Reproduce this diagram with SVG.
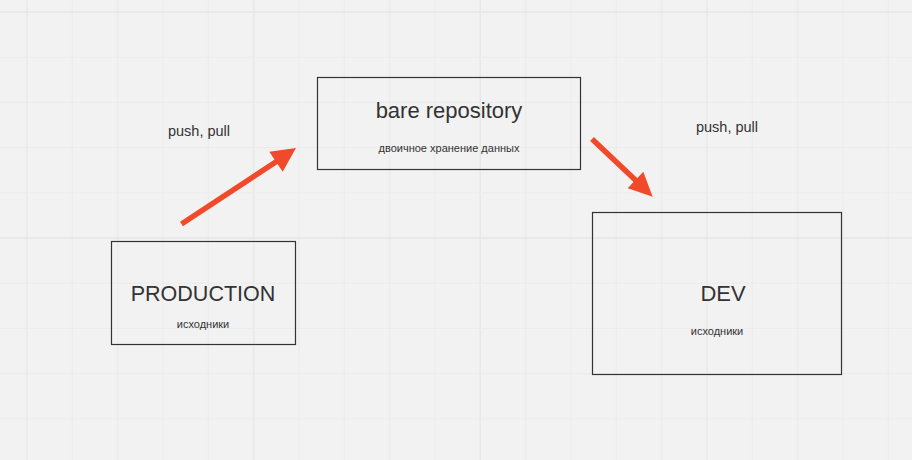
<svg xmlns="http://www.w3.org/2000/svg" width="912" height="460" viewBox="0 0 912 460">
<defs>
<style>
.bg{fill:#f2f2f2}
.g{stroke:#ebebeb;stroke-width:1}
.G{stroke:#e6e6e6;stroke-width:1.3}
.box{fill:none;stroke:#333333;stroke-width:1.2}
.t{font-family:"Liberation Sans",Arial,sans-serif;fill:#333333;text-anchor:middle}
.big{font-size:22px}
.prod{font-size:21.5px}
.small{font-size:11px}
.lbl{font-size:14.5px}
.arr{stroke:#f04a2a;stroke-width:5.5;fill:none}
.head{fill:#f04a2a}
</style>
</defs>
<rect class="bg" x="0" y="0" width="912" height="460"/>
<g id="grid">
<line class="G" x1="27" y1="0" x2="27" y2="460"/>
<line class="g" x1="72.3" y1="0" x2="72.3" y2="460"/>
<line class="g" x1="117.7" y1="0" x2="117.7" y2="460"/>
<line class="g" x1="163" y1="0" x2="163" y2="460"/>
<line class="g" x1="208.3" y1="0" x2="208.3" y2="460"/>
<line class="G" x1="253.7" y1="0" x2="253.7" y2="460"/>
<line class="g" x1="299" y1="0" x2="299" y2="460"/>
<line class="g" x1="344.3" y1="0" x2="344.3" y2="460"/>
<line class="g" x1="389.7" y1="0" x2="389.7" y2="460"/>
<line class="g" x1="435" y1="0" x2="435" y2="460"/>
<line class="G" x1="480.3" y1="0" x2="480.3" y2="460"/>
<line class="g" x1="525.7" y1="0" x2="525.7" y2="460"/>
<line class="g" x1="571" y1="0" x2="571" y2="460"/>
<line class="g" x1="616.3" y1="0" x2="616.3" y2="460"/>
<line class="g" x1="661.7" y1="0" x2="661.7" y2="460"/>
<line class="G" x1="707" y1="0" x2="707" y2="460"/>
<line class="g" x1="752.3" y1="0" x2="752.3" y2="460"/>
<line class="g" x1="797.7" y1="0" x2="797.7" y2="460"/>
<line class="g" x1="843" y1="0" x2="843" y2="460"/>
<line class="g" x1="888.3" y1="0" x2="888.3" y2="460"/>
<line class="G" x1="0" y1="12" x2="912" y2="12"/>
<line class="g" x1="0" y1="57.2" x2="912" y2="57.2"/>
<line class="g" x1="0" y1="102.4" x2="912" y2="102.4"/>
<line class="g" x1="0" y1="147.6" x2="912" y2="147.6"/>
<line class="g" x1="0" y1="192.8" x2="912" y2="192.8"/>
<line class="G" x1="0" y1="238" x2="912" y2="238"/>
<line class="g" x1="0" y1="283.2" x2="912" y2="283.2"/>
<line class="g" x1="0" y1="328.4" x2="912" y2="328.4"/>
<line class="g" x1="0" y1="373.6" x2="912" y2="373.6"/>
<line class="g" x1="0" y1="418.8" x2="912" y2="418.8"/>
</g>
<g id="production">
<rect class="box" x="111.5" y="241.5" width="184" height="103"/>
<text class="t prod" x="203" y="301">PRODUCTION</text>
<text class="t small" x="203" y="328">исходники</text>
</g>
<g id="bare">
<rect class="box" x="317.5" y="77.5" width="263" height="92"/>
<text class="t big" x="449" y="117.5">bare repository</text>
<text class="t small" x="449" y="152">двоичное хранение данных</text>
</g>
<g id="dev">
<rect class="box" x="592.5" y="212.5" width="249" height="162"/>
<text class="t big" x="723" y="301">DEV</text>
<text class="t small" x="717" y="334.5">исходники</text>
</g>
<g id="labels">
<text class="t lbl" x="199" y="136">push, pull</text>
<text class="t lbl" x="727" y="132">push, pull</text>
</g>
<g id="connectors">
<line class="arr" x1="181.5" y1="224" x2="278" y2="160.5"/>
<polygon class="head" points="296,148 269.3,151.7 282.7,171.7"/>
<line class="arr" x1="592" y1="139" x2="638" y2="182.5"/>
<polygon class="head" points="652.7,196.7 627.7,188.3 643.3,171.7"/>
</g>
</svg>
